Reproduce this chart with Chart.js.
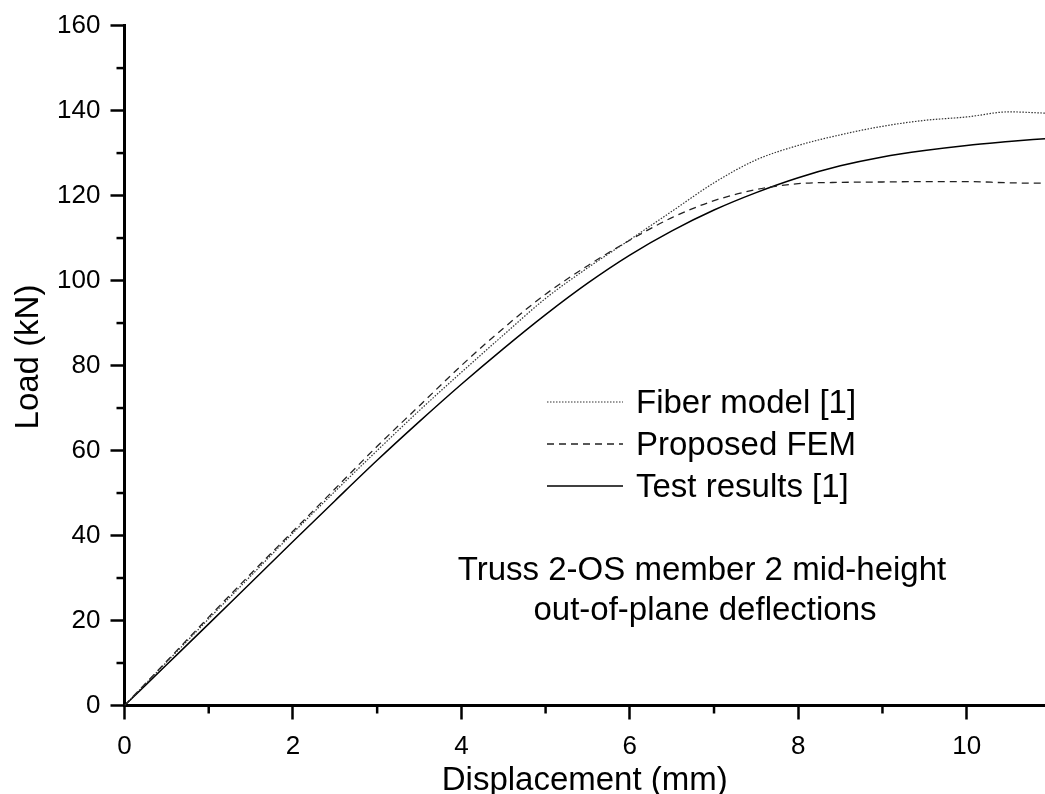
<!DOCTYPE html>
<html>
<head>
<meta charset="utf-8">
<script src="https://cdn.jsdelivr.net/npm/chart.js@4.4.0/dist/chart.umd.min.js"></script>
<style>
  body { margin: 0; background: #fff; }
  #wrap { width: 1045px; height: 794px; }
</style>
</head>
<body>
<div id="wrap"><canvas id="loadChart" width="1045" height="794"></canvas></div>
<script>
// data
const displacement = [0, 0.5, 1, 1.5, 2, 2.5, 3, 3.5, 4, 4.5, 5, 5.5, 6, 6.5, 7, 7.5, 8, 8.5, 9, 9.5, 10, 10.5, 10.93];
const fiberModel = [0, 10.2, 20.4, 30.5, 40.6, 50.4, 60, 69.4, 78.4, 87.2, 95.8, 103, 109.6, 116.3, 123, 128.4, 131.8, 134.3, 136.3, 137.7, 138.5, 139.7, 139.4];
const proposedFem = [0, 10.4, 20.8, 31, 41, 51, 61, 70.5, 80, 88.8, 96.8, 103.5, 109.5, 114.8, 118.8, 121.4, 122.8, 123.1, 123.2, 123.3, 123.3, 123.0, 122.9];
const testResults = [0, 9.6, 19.2, 28.9, 38.6, 48.2, 57.7, 66.8, 75.6, 84, 92, 99.4, 106, 111.7, 116.6, 120.7, 124.2, 127, 129.1, 130.6, 131.8, 132.7, 133.4];

const xTicks = [0, 2, 4, 6, 8, 10];
const xMinorTicks = [1, 3, 5, 7, 9];
const yTicks = [0, 20, 40, 60, 80, 100, 120, 140, 160];
const yMinorTicks = [10, 30, 50, 70, 90, 110, 130, 150];

const seriesNames = ["Fiber model [1]", "Proposed FEM", "Test results [1]"];
const noteLines = ["Truss 2-OS member 2 mid-height", "out-of-plane deflections"];

const FONT = "Arial, 'Liberation Sans', sans-serif";

const toPoints = (ys) => displacement.map((x, i) => ({ x: x, y: ys[i] }));

// minor ticks, legend, axis titles and the note
const extras = {
  id: "extras",
  afterDraw(chart) {
    const ctx = chart.ctx;
    const xs = chart.scales.x;
    const ys = chart.scales.y;
    ctx.save();
    ctx.strokeStyle = "#000";
    ctx.lineWidth = 2.5;
    ctx.setLineDash([]);
    xMinorTicks.forEach((v) => {
      const px = xs.getPixelForValue(v);
      ctx.beginPath();
      ctx.moveTo(px, xs.top);
      ctx.lineTo(px, xs.top + 8);
      ctx.stroke();
    });
    yMinorTicks.forEach((v) => {
      const py = ys.getPixelForValue(v);
      ctx.beginPath();
      ctx.moveTo(ys.right, py);
      ctx.lineTo(ys.right - 8, py);
      ctx.stroke();
    });

    // legend
    ctx.font = "33px " + FONT;
    ctx.fillStyle = "#000";
    ctx.textAlign = "left";
    ctx.textBaseline = "alphabetic";
    chart.data.datasets.forEach((ds, i) => {
      const base = 413 + i * 42;
      ctx.strokeStyle = ds.borderColor;
      ctx.lineWidth = ds.borderWidth;
      ctx.setLineDash(ds.borderDash || []);
      ctx.beginPath();
      ctx.moveTo(547, base - 11);
      ctx.lineTo(623, base - 11);
      ctx.stroke();
      ctx.fillText(seriesNames[i], 636, base);
    });
    ctx.setLineDash([]);

    // note
    ctx.textAlign = "center";
    ctx.fillText(noteLines[0], 702, 580);
    ctx.fillText(noteLines[1], 705, 620);

    // axis titles
    ctx.fillText("Displacement (mm)", (xs.left + xs.right) / 2, 790);
    ctx.translate(29, 357);
    ctx.rotate(-Math.PI / 2);
    ctx.textBaseline = "middle";
    ctx.fillText("Load (kN)", 0, 0);
    ctx.restore();
  },
};

const loadChart = new Chart(document.getElementById("loadChart"), {
  type: "line",
  data: {
    datasets: [
      {
        label: seriesNames[0],
        data: toPoints(fiberModel),
        borderColor: "#333",
        borderWidth: 1.2,
        borderDash: [1.5, 1.5],
        pointRadius: 0,
        cubicInterpolationMode: "monotone",
        fill: false,
      },
      {
        label: seriesNames[1],
        data: toPoints(proposedFem),
        borderColor: "#222",
        borderWidth: 1.3,
        borderDash: [7, 5],
        pointRadius: 0,
        cubicInterpolationMode: "monotone",
        fill: false,
      },
      {
        label: seriesNames[2],
        data: toPoints(testResults),
        borderColor: "#000",
        borderWidth: 1.5,
        pointRadius: 0,
        cubicInterpolationMode: "monotone",
        fill: false,
      },
    ],
  },
  options: {
    responsive: false,
    animation: false,
    devicePixelRatio: 1,
    layout: {
      padding: { top: 21.5, right: 0, bottom: 0, left: 0 },
    },
    plugins: {
      legend: { display: false },
      tooltip: { enabled: false },
    },
    scales: {
      x: {
        type: "linear",
        min: 0,
        max: 10.93,
        afterBuildTicks: (scale) => {
          scale.ticks = xTicks.map((v) => ({ value: v }));
        },
        afterFit: (scale) => {
          scale.height = 88.5;
        },
        ticks: {
          color: "#000",
          padding: 12,
          maxRotation: 0,
          font: { family: FONT, size: 26 },
        },
        grid: {
          drawOnChartArea: false,
          drawTicks: true,
          tickLength: 14,
          tickWidth: 2.5,
          tickColor: "#000",
        },
        border: { color: "#000", width: 3 },
      },
      y: {
        type: "linear",
        min: 0,
        max: 160,
        afterBuildTicks: (scale) => {
          scale.ticks = yTicks.map((v) => ({ value: v }));
        },
        afterFit: (scale) => {
          scale.width = 124.5;
        },
        ticks: {
          color: "#000",
          padding: 10,
          font: { family: FONT, size: 26 },
        },
        grid: {
          drawOnChartArea: false,
          drawTicks: true,
          tickLength: 14,
          tickWidth: 2.5,
          tickColor: "#000",
        },
        border: { color: "#000", width: 3 },
      },
    },
  },
  plugins: [extras],
});
</script>
</body>
</html>
